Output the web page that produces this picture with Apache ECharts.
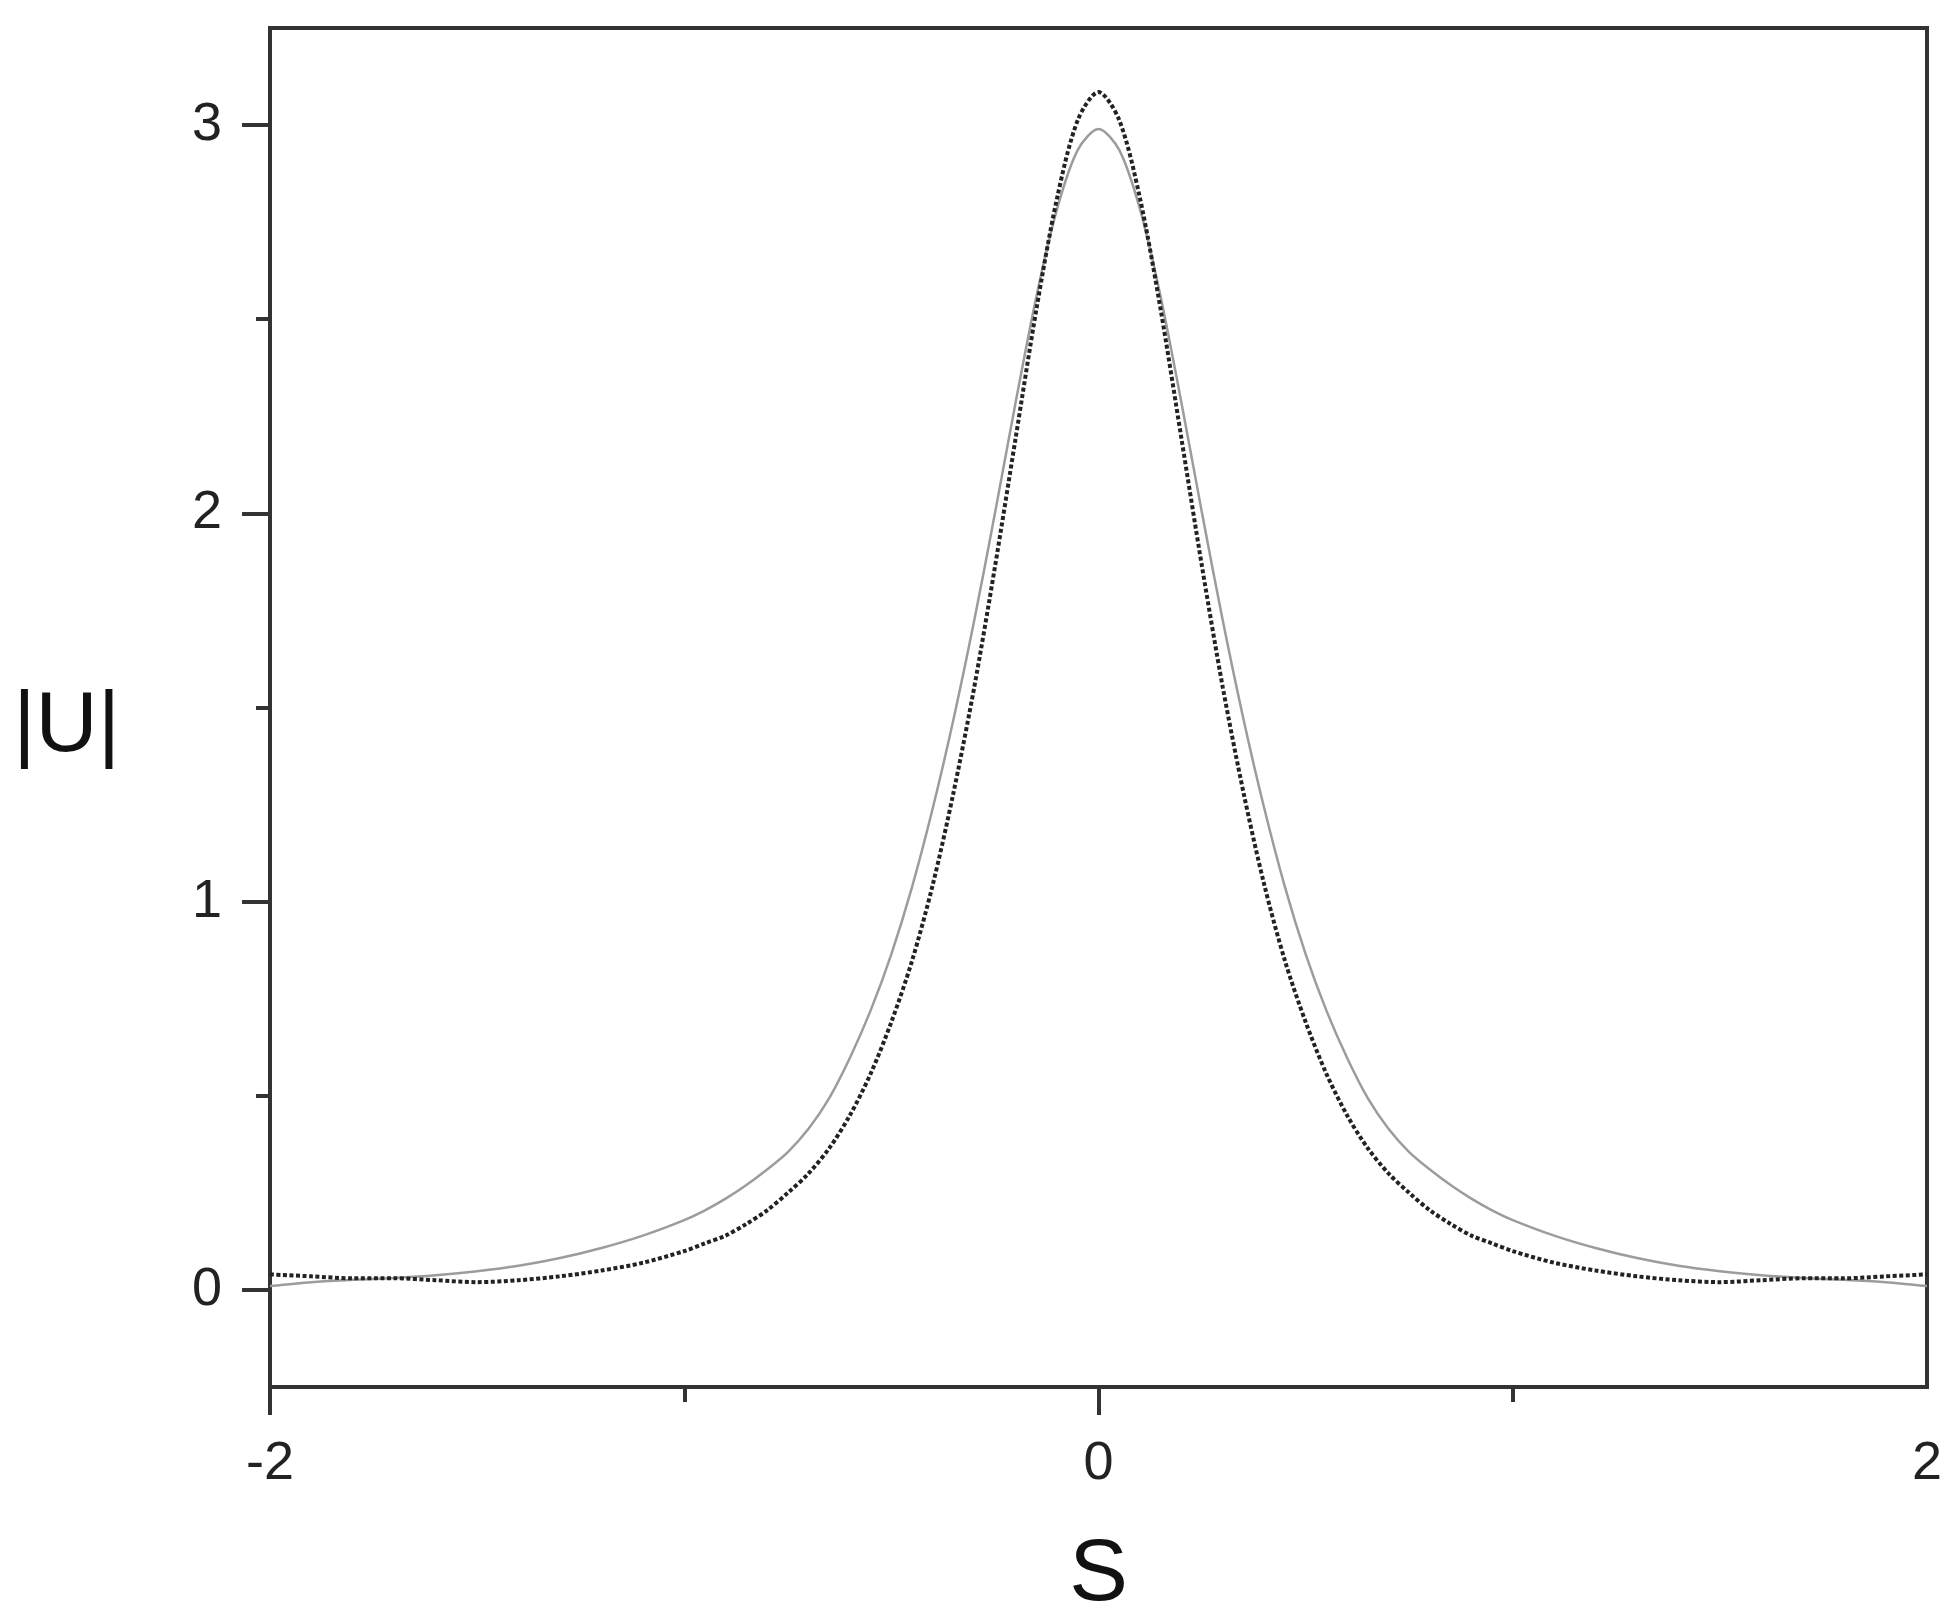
<!DOCTYPE html>
<html>
<head>
<meta charset="utf-8">
<script src="https://cdn.jsdelivr.net/npm/echarts@6/dist/echarts.min.js"></script>
<style>
  html, body { margin: 0; padding: 0; background: #fff; }
  #chart { width: 1953px; height: 1621px; }
</style>
</head>
<body>
<div id="chart"></div>
<script>
// S positions (finer around the peak)
var sValues = [
  -2.0, -1.9, -1.8, -1.7, -1.6, -1.5, -1.4, -1.3, -1.2, -1.1,
  -1.0, -0.95, -0.9, -0.85, -0.8, -0.75, -0.7, -0.65, -0.6, -0.55,
  -0.5, -0.45, -0.4, -0.35, -0.3, -0.25, -0.2, -0.15, -0.1, -0.05,
  0.0,
  0.05, 0.1, 0.15, 0.2, 0.25, 0.3, 0.35, 0.4, 0.45, 0.5,
  0.55, 0.6, 0.65, 0.7, 0.75, 0.8, 0.85, 0.9, 0.95, 1.0,
  1.1, 1.2, 1.3, 1.4, 1.5, 1.6, 1.7, 1.8, 1.9, 2.0
]

// dark dotted curve |U|
var uDotted = [
  0.04, 0.035, 0.03, 0.03, 0.025, 0.02, 0.025, 0.035, 0.05, 0.07,
  0.10, 0.12, 0.14, 0.17, 0.205, 0.25, 0.30, 0.365, 0.45, 0.557,
  0.69, 0.848, 1.044, 1.281, 1.552, 1.862, 2.194, 2.525, 2.812, 3.013,
  3.085,
  3.013, 2.812, 2.525, 2.194, 1.862, 1.552, 1.281, 1.044, 0.848, 0.69,
  0.557, 0.45, 0.365, 0.30, 0.25, 0.205, 0.17, 0.14, 0.12, 0.10,
  0.07, 0.05, 0.035, 0.025, 0.02, 0.025, 0.03, 0.03, 0.035, 0.04
]

// light grey curve |U|
var uGrey = [
  0.01, 0.02, 0.026, 0.031, 0.038, 0.048, 0.062, 0.082, 0.108, 0.14,
  0.18, 0.205, 0.235, 0.27, 0.31, 0.355, 0.415, 0.494, 0.598, 0.72,
  0.865, 1.038, 1.241, 1.47, 1.724, 2.0, 2.286, 2.558, 2.784, 2.936,
  2.99,
  2.936, 2.784, 2.558, 2.286, 2.0, 1.724, 1.47, 1.241, 1.038, 0.865,
  0.72, 0.598, 0.494, 0.415, 0.355, 0.31, 0.27, 0.235, 0.205, 0.18,
  0.14, 0.108, 0.082, 0.062, 0.048, 0.038, 0.031, 0.026, 0.02, 0.01
]

var xMajorTicks = [-2, 0]
var xMinorTicks = [-1, 1]
var xLabels = [-2, 0, 2]
var yMajorTicks = [0, 1, 2, 3]
var yMinorTicks = [0.5, 1.5, 2.5]

function pairs (ys) {
  return sValues.map(function (s, i) { return [s, ys[i]] })
}

var font = '"Liberation Sans", Arial, sans-serif'
var tickStyle = { color: '#333', width: 4 }
var myChart = echarts.init(document.getElementById('chart'))
myChart.setOption({
  backgroundColor: '#fff',
  animation: false,
  grid: {
    left: 270,
    right: 26,
    top: 28,
    bottom: 234,
    outerBoundsMode: 'none',
    show: true,
    borderColor: '#333',
    borderWidth: 4,
    backgroundColor: 'transparent'
  },
  xAxis: [
    {
      type: 'value',
      min: -2,
      max: 2,
      position: 'bottom',
      splitLine: { show: false },
      axisLine: { show: false, onZero: false },
      axisTick: { show: true, length: 28, customValues: xMajorTicks, lineStyle: tickStyle },
      axisLabel: { customValues: xLabels, margin: 50, fontSize: 54, color: '#222', fontFamily: font },
      name: 'S',
      nameLocation: 'middle',
      nameGap: 145,
      nameTextStyle: { fontSize: 88, color: '#111', fontFamily: font }
    },
    {
      type: 'value',
      min: -2,
      max: 2,
      position: 'bottom',
      splitLine: { show: false },
      axisLine: { show: false, onZero: false },
      axisTick: { show: true, length: 15, customValues: xMinorTicks, lineStyle: tickStyle },
      axisLabel: { show: false }
    }
  ],
  yAxis: [
    {
      type: 'value',
      min: -0.25,
      max: 3.25,
      position: 'left',
      splitLine: { show: false },
      axisLine: { show: false, onZero: false },
      axisTick: { show: true, length: 28, customValues: yMajorTicks, lineStyle: tickStyle },
      axisLabel: { customValues: yMajorTicks, margin: 48, fontSize: 54, color: '#222', fontFamily: font },
      name: '|U|',
      nameLocation: 'middle',
      nameRotate: 0,
      nameGap: 150,
      nameTextStyle: { fontSize: 86, color: '#111', fontFamily: font, verticalAlign: 'top', lineHeight: 40 }
    },
    {
      type: 'value',
      min: -0.25,
      max: 3.25,
      position: 'left',
      splitLine: { show: false },
      axisLine: { show: false, onZero: false },
      axisTick: { show: true, length: 14, customValues: yMinorTicks, lineStyle: tickStyle },
      axisLabel: { show: false }
    }
  ],
  series: [
    {
      name: 'grey',
      type: 'line',
      data: pairs(uGrey),
      smooth: 0.3,
      showSymbol: false,
      lineStyle: { color: '#9c9c9c', width: 2.5 }
    },
    {
      name: 'dotted',
      type: 'line',
      data: pairs(uDotted),
      smooth: 0.3,
      showSymbol: false,
      lineStyle: { color: '#222', width: 4, type: [4, 2.5] }
    }
  ]
})
</script>
</body>
</html>
